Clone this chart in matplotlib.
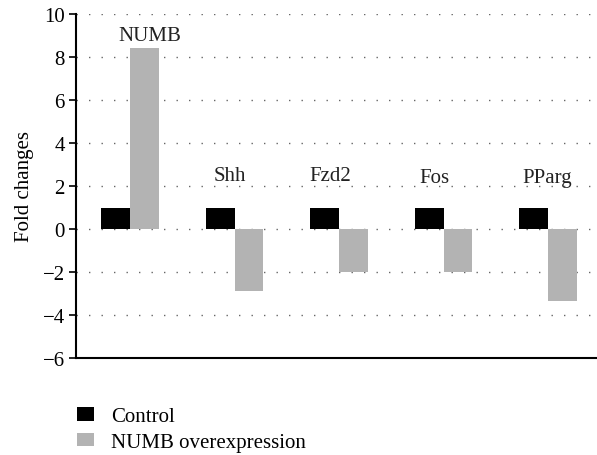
import numpy as np
import matplotlib.pyplot as plt

# data
genes = ["NUMB", "Shh", "Fzd2", "Fos", "PParg"]
control = [1, 1, 1, 1, 1]
numb_oe = [8.4, -2.9, -2.0, -2.0, -3.35]
label_pos = [(0.19, 9.0), (-0.04, 2.5), (-0.08, 2.5), (-0.09, 2.4), (-0.01, 2.4)]

plt.rcParams['font.family'] = ['Liberation Serif', 'DejaVu Serif']

fig = plt.figure(figsize=(5.97, 4.56), dpi=100)
ax = fig.add_axes([76/597, 1 - 359/456, 1 - 76/597, (359 - 15)/456])

x = np.arange(len(genes))
w = 0.277
ax.bar(x - w/2, control, w, color='black', label='Control', zorder=3)
ax.bar(x + w/2, numb_oe, w, color='#b3b3b3', label='NUMB overexpression', zorder=3)

for i, g in enumerate(genes):
    dx, y = label_pos[i]
    ax.text(i + dx, y, g, ha='center', va='center', fontsize=15, color='#222222')

ax.set_xlim(-0.517, 4.469)
ax.set_ylim(-6, 10)
ax.set_yticks(np.arange(-6, 11, 2))
ax.set_yticklabels([str(v).replace('-', '\u2212') for v in range(-6, 11, 2)])
ax.set_xticks([])
ax.tick_params(axis='y', labelsize=15, length=5, width=1.2, direction='out', pad=3)
for v in range(-4, 11, 2):
    ax.axhline(v, color='#666666', linestyle=(0, (1, 8)), linewidth=1.0, zorder=1)

ax.spines['top'].set_visible(False)
ax.spines['right'].set_visible(False)
ax.spines['left'].set_linewidth(1.5)
ax.spines['bottom'].set_linewidth(1.5)
ax.set_ylabel("Fold changes", fontsize=15, labelpad=6)

ax.legend(loc='upper left', bbox_to_anchor=(67/597, 1 - 398/456), bbox_transform=fig.transFigure,
          frameon=False, fontsize=15, handlelength=0.8, handleheight=0.6,
          handletextpad=0.8, labelspacing=0.3, borderpad=0)

fig.savefig("out.png", dpi=100)
